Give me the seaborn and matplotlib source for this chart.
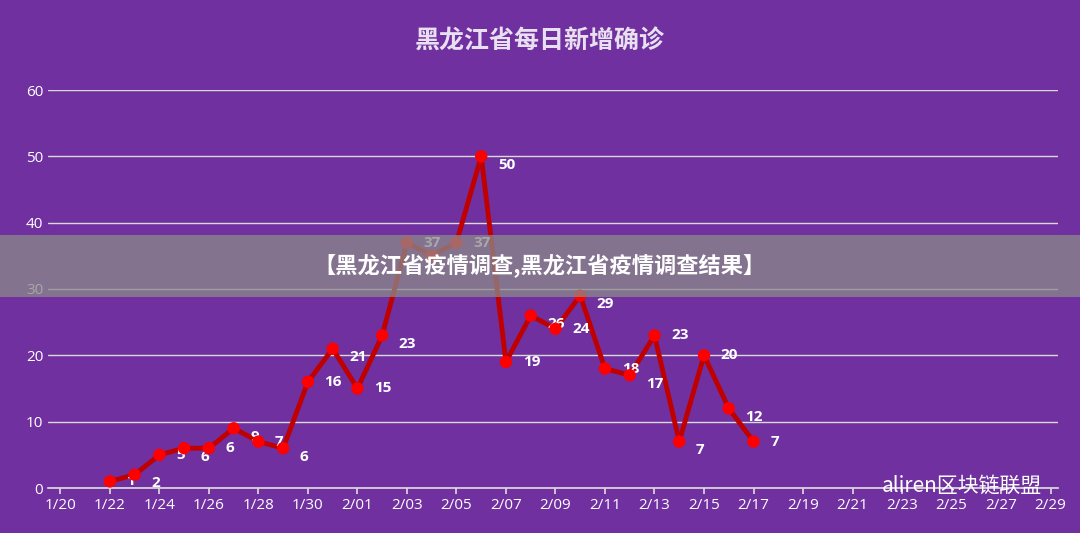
import matplotlib
matplotlib.use("Agg")
import matplotlib.pyplot as plt
import seaborn as sns
import pandas as pd
import numpy as np

tick_labels = ["1/20","1/22","1/24","1/26","1/28","1/30","2/01","2/03","2/05","2/07","2/09",
               "2/11","2/13","2/15","2/17","2/19","2/21","2/23","2/25","2/27","2/29"]
values = [1,2,5,6,6,9,7,6,16,21,15,23,37,35,37,50,19,26,24,29,18,17,23,7,20,12,7]
day_index = list(range(2, 2 + len(values)))  # 1/22 is day 2 after 1/20
hidden_labels = {13}

sns.set_theme(style="white")
plt.rcParams['font.family'] = ['Noto Sans CJK SC', 'DejaVu Sans']
bg = "#7030A0"
fig = plt.figure(figsize=(10.8, 5.33), dpi=100, facecolor=bg)
ax = fig.add_axes([48/1080, 45/533, 1010/1080, 398/533], facecolor=bg)
df = pd.DataFrame({"day": day_index, "v": values})
sns.lineplot(data=df, x="day", y="v", ax=ax, color="#C00000", lw=3.5, zorder=3)
sns.scatterplot(data=df, x="day", y="v", ax=ax, color="#FF0000", s=80, edgecolor="none", zorder=4)
for i, (d, v) in enumerate(zip(day_index, values)):
    if i in hidden_labels:
        continue
    ax.annotate(str(v), (d, v), xytext=(12, -6 if i % 2 else 0), textcoords="offset points",
                color="white", fontsize=11, fontweight="bold", va="center",
                family=["Open Sans", "DejaVu Sans"])
ax.set_xlim(-0.5, 40.3)
ax.set_ylim(0, 60)
ax.set_yticks(range(0, 61, 10))
ax.set_xticks(range(0, 41, 2))
ax.set_xticklabels(tick_labels)
ax.grid(axis="y", color="#D9D9D9", lw=1)
for s in ["top", "right", "left"]:
    ax.spines[s].set_visible(False)
ax.spines["bottom"].set_color("#D9D9D9")
ax.tick_params(axis="x", colors="white", labelsize=11, length=4, color="#D9D9D9", bottom=True)
ax.tick_params(axis="y", colors="white", labelsize=11, length=0)
for t in ax.get_xticklabels() + ax.get_yticklabels():
    t.set_family(["Open Sans", "DejaVu Sans"])
ax.set_xlabel(""); ax.set_ylabel("")
fig.text(0.5, 1 - 42/533, "黑龙江省每日新增确诊", ha="center", va="center",
         color="#E8E0F0", fontsize=18, fontweight="bold")
fig.patches.append(plt.Rectangle((0, 1 - 297/533), 1, 62/533, transform=fig.transFigure,
                                 facecolor="#8A8A8A", edgecolor="none", lw=0, alpha=0.75, zorder=10))
fig.text(0.5, 1 - 266/533, "【黑龙江省疫情调查,黑龙江省疫情调查结果】", ha="center", va="center",
         color="white", fontsize=16, fontweight="bold", zorder=11)
fig.text(0.965, 1 - 486/533, "aliren区块链联盟", ha="right", va="center",
         color="white", fontsize=15, zorder=11)
fig.savefig("out.png", dpi=100, facecolor=bg)
